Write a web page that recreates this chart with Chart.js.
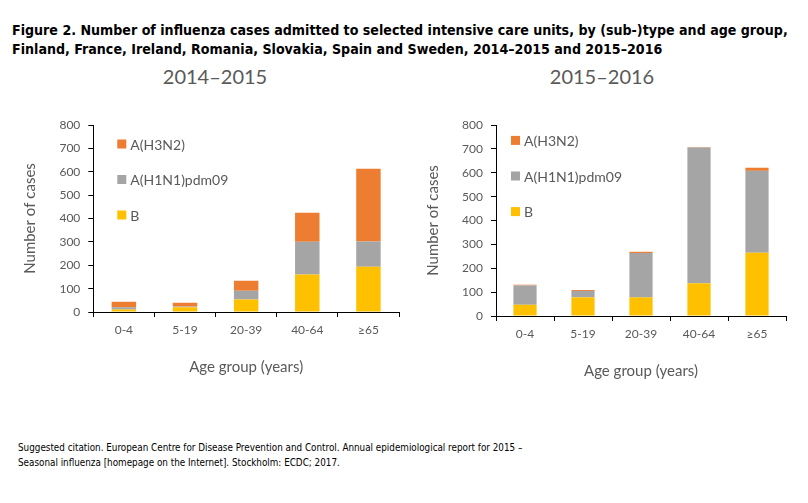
<!DOCTYPE html>
<html>
<head>
<meta charset="utf-8">
<script src="https://cdn.jsdelivr.net/npm/chart.js@4.4.1/dist/chart.umd.min.js"></script>
<style>
  body { margin: 0; background: #fff; width: 808px; height: 503px; position: relative; overflow: hidden; }
  .fig-title { position: absolute; left: 12px; top: 21px; font-family: "DejaVu Sans Condensed", "DejaVu Sans", sans-serif; font-weight: bold; font-size: 14.1px; line-height: 19px; color: #000; white-space: nowrap; }
  .period { position: absolute; top: 64px; font-family: Lato, "Open Sans", sans-serif; font-size: 20px; color: #595959; width: 200px; text-align: center; }
  .cite { position: absolute; left: 18px; top: 440px; font-family: "DejaVu Sans Condensed", "DejaVu Sans", sans-serif; font-size: 9.8px; line-height: 15px; color: #000; white-space: nowrap; }
  .box { position: absolute; top: 100px; }
</style>
</head>
<body>
<div class="fig-title">Figure 2. Number of influenza cases admitted to selected intensive care units, by (sub-)type and age group,<br>Finland, France, Ireland, Romania, Slovakia, Spain and Sweden, 2014&ndash;2015 and 2015&ndash;2016</div>
<div class="period" style="left:115px">2014&ndash;2015</div>
<div class="period" style="left:502px">2015&ndash;2016</div>
<div class="box" style="left:0; width:410px; height:280px;"><canvas id="left"></canvas></div>
<div class="box" style="left:410px; width:398px; height:284px;"><canvas id="right"></canvas></div>
<div class="cite">Suggested citation. European Centre for Disease Prevention and Control. Annual epidemiological report for 2015 &ndash;<br>Seasonal influenza [homepage on the Internet]. Stockholm: ECDC; 2017.</div>
<script>
// age groups and counts
const ageGroups = ["0-4", "5-19", "20-39", "40-64", "\u226565"];

const b_1415 = [11, 20, 54, 160, 194];
const h1n1_1415 = [9, 4, 37, 141, 108];
const h3n2_1415 = [24, 16, 43, 124, 311];

const b_1516 = [47, 78, 78, 137, 265];
const h1n1_1516 = [81, 27, 186, 569, 343];
const h3n2_1516 = [3, 4, 5, 2, 13];

const yTicks = [0, 100, 200, 300, 400, 500, 600, 700, 800];

const COLORS = { b: "#FFC000", h1n1: "#A5A5A5", h3n2: "#ED7D31" };
const TEXT = "#595959";
const FONT = "Lato, 'Open Sans', sans-serif";

// legend drawn inside the plot, top entry = top of stack
const insideLegend = {
  id: "insideLegend",
  afterDraw(chart, args, opts) {
    const ctx = chart.ctx;
    const area = chart.chartArea;
    const sets = chart.data.datasets.slice().reverse();
    ctx.save();
    ctx.font = "14px " + FONT;
    ctx.textBaseline = "middle";
    sets.forEach((ds, i) => {
      const cy = area.top + opts.y + i * opts.gap;
      const x = area.left + opts.x;
      ctx.fillStyle = ds.backgroundColor;
      ctx.fillRect(x, cy - 4.5, 9, 9);
      ctx.fillStyle = TEXT;
      ctx.fillText(ds.label, x + 13, cy + 1);
    });
    ctx.restore();
  },
};

function makeChart(id, bData, h1Data, h3Data, cfg) {
  const ctx = document.getElementById(id).getContext("2d");
  return new Chart(ctx, {
    type: "bar",
    data: {
      labels: ageGroups,
      datasets: [
        { label: "B", data: bData, backgroundColor: COLORS.b },
        { label: "A(H1N1)pdm09", data: h1Data, backgroundColor: COLORS.h1n1 },
        { label: "A(H3N2)", data: h3Data, backgroundColor: COLORS.h3n2 },
      ],
    },
    options: {
      responsive: true,
      maintainAspectRatio: false,
      animation: false,
      barPercentage: 0.4,
      categoryPercentage: 1,
      layout: { padding: { top: 25, right: cfg.padRight, left: cfg.padLeft, bottom: 0 } },
      plugins: {
        legend: { display: false },
        tooltip: { enabled: false },
        insideLegend: { x: cfg.legX, y: cfg.legY, gap: cfg.legGap },
      },
      scales: {
        x: {
          stacked: true,
          border: { color: "#000", width: 1 },
          grid: { display: true, drawOnChartArea: false, drawTicks: true, tickLength: 5, color: "#000", offset: true },
          ticks: { color: TEXT, font: { family: FONT, size: 12 }, padding: 6 },
          title: { display: true, text: "Age group (years)", color: TEXT, font: { family: FONT, size: 15 } },
          afterFit(scale) { scale.height = 68; },
        },
        y: {
          stacked: true,
          min: 0,
          max: 800,
          afterBuildTicks(scale) { scale.ticks = yTicks.map((v) => ({ value: v })); },
          border: { color: "#000", width: 1 },
          grid: { display: true, drawOnChartArea: false, drawTicks: true, tickLength: 5, color: "#000" },
          ticks: { color: TEXT, font: { family: FONT, size: 12 }, padding: 8 },
          title: { display: true, text: "Number of cases", color: TEXT, font: { family: FONT, size: 15 } },
          afterFit(scale) { scale.width = cfg.yWidth; },
        },
      },
    },
    plugins: [insideLegend],
  });
}

makeChart("left", b_1415, h1n1_1415, h3n2_1415,
  { padLeft: 17, padRight: 11, yWidth: 76.3, legX: 24, legY: 19, legGap: 35.5 });
makeChart("right", b_1516, h1n1_1516, h3n2_1516,
  { padLeft: 10, padRight: 22, yWidth: 76, legX: 15, legY: 15.4, legGap: 35.6 });
</script>
</body>
</html>
